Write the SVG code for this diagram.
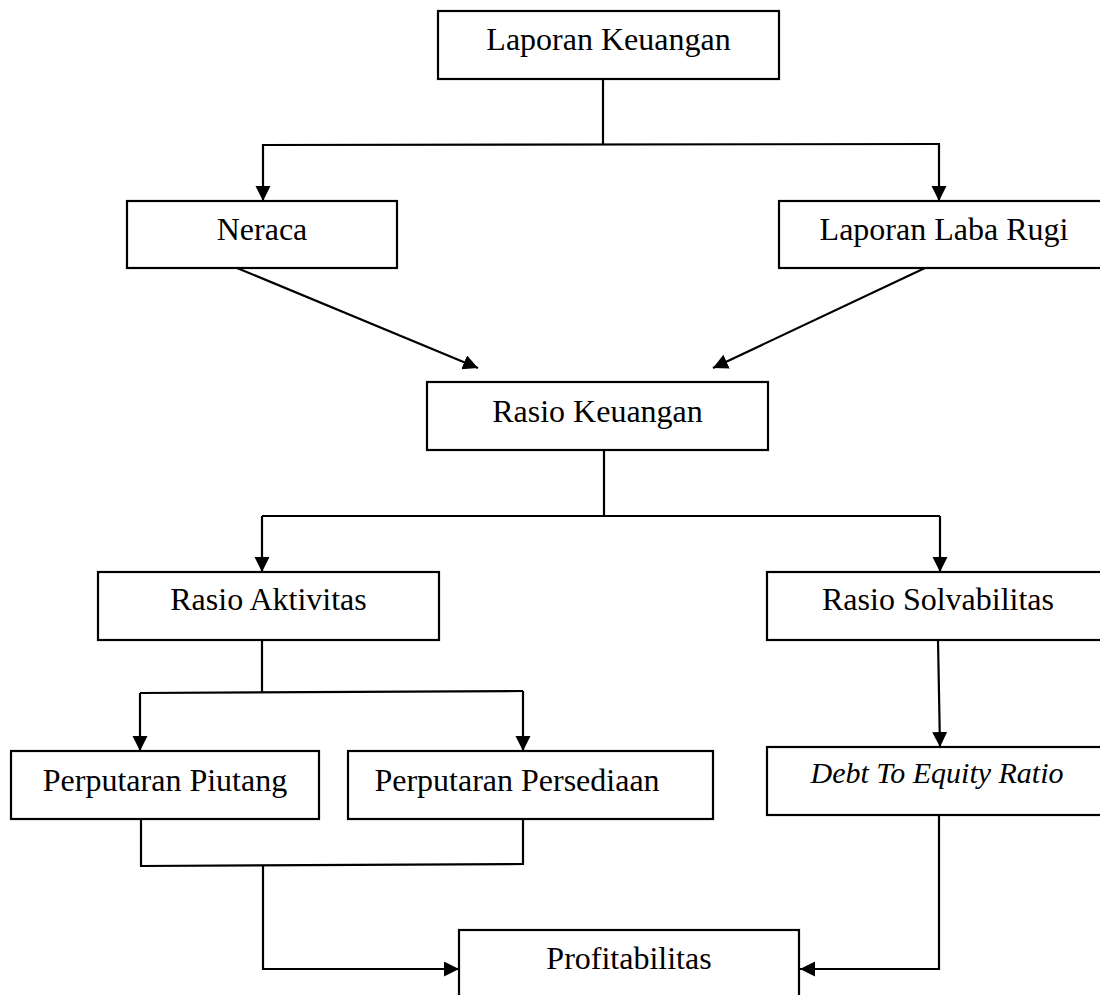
<svg xmlns="http://www.w3.org/2000/svg" width="1100" height="995" viewBox="0 0 1100 995">
<style>
.box{fill:#fff;stroke:#000;stroke-width:2.2}
.t{font-family:"Liberation Serif","Times New Roman",serif;font-size:32px;fill:#000;text-anchor:middle}
.it{font-style:italic;font-size:30px}
.c{fill:none;stroke:#000;stroke-width:2.2}
.a{marker-end:url(#ah)}
</style>
<defs>
<marker id="ah" markerUnits="userSpaceOnUse" markerWidth="16" markerHeight="16" refX="15" refY="7.5" orient="auto">
<path d="M0,0 L15,7.5 L0,15 z" fill="#000"/>
</marker>
</defs>
<rect width="1100" height="995" fill="#fff"/>
<g id="connectors">
<line class="c" x1="603" y1="79" x2="603" y2="145"/>
<line class="c" x1="262" y1="145" x2="940" y2="144"/>
<line class="c a" x1="263" y1="145" x2="263" y2="201"/>
<line class="c a" x1="939" y1="144" x2="939" y2="201"/>
<line class="c a" x1="237" y1="268" x2="478" y2="368"/>
<line class="c a" x1="925" y1="268" x2="713" y2="368"/>
<line class="c" x1="604" y1="450" x2="604" y2="516"/>
<line class="c" x1="262" y1="516" x2="940" y2="516"/>
<line class="c a" x1="262" y1="516" x2="262" y2="572"/>
<line class="c a" x1="940" y1="516" x2="940" y2="572"/>
<line class="c" x1="262" y1="640" x2="262" y2="692"/>
<line class="c" x1="140" y1="693" x2="523" y2="691"/>
<line class="c a" x1="140" y1="693" x2="140" y2="751"/>
<line class="c a" x1="523" y1="691" x2="523" y2="751"/>
<polyline class="c" points="141,819 141,866 523,864 523,819"/>
<polyline class="c a" points="263,866 263,969 459,969"/>
<line class="c a" x1="938" y1="640" x2="940" y2="747"/>
<polyline class="c a" points="939,815 939,969 800,969"/>
</g>
<g id="laporan-keuangan"><rect class="box" x="438" y="11" width="341" height="68"/><text class="t" x="608.5" y="50">Laporan Keuangan</text></g>
<g id="neraca"><rect class="box" x="127" y="201" width="270" height="67"/><text class="t" x="262" y="240">Neraca</text></g>
<g id="laporan-laba-rugi"><rect class="box" x="779" y="201" width="332" height="67"/><text class="t" x="944" y="240">Laporan Laba Rugi</text></g>
<g id="rasio-keuangan"><rect class="box" x="427" y="382" width="341" height="68"/><text class="t" x="597.5" y="422">Rasio Keuangan</text></g>
<g id="rasio-aktivitas"><rect class="box" x="98" y="572" width="341" height="68"/><text class="t" x="268.5" y="610">Rasio Aktivitas</text></g>
<g id="rasio-solvabilitas"><rect class="box" x="767" y="572" width="344" height="68"/><text class="t" x="938" y="610">Rasio Solvabilitas</text></g>
<g id="perputaran-piutang"><rect class="box" x="11" y="751" width="308" height="68"/><text class="t" x="165" y="791">Perputaran Piutang</text></g>
<g id="perputaran-persediaan"><rect class="box" x="348" y="751" width="365" height="68"/><text class="t" x="517" y="791">Perputaran Persediaan</text></g>
<g id="debt-to-equity-ratio"><rect class="box" x="767" y="747" width="344" height="68"/><text class="t it" x="937" y="783">Debt To Equity Ratio</text></g>
<g id="profitabilitas"><rect class="box" x="459" y="930" width="340" height="80"/><text class="t" x="629" y="969">Profitabilitas</text></g>
</svg>
